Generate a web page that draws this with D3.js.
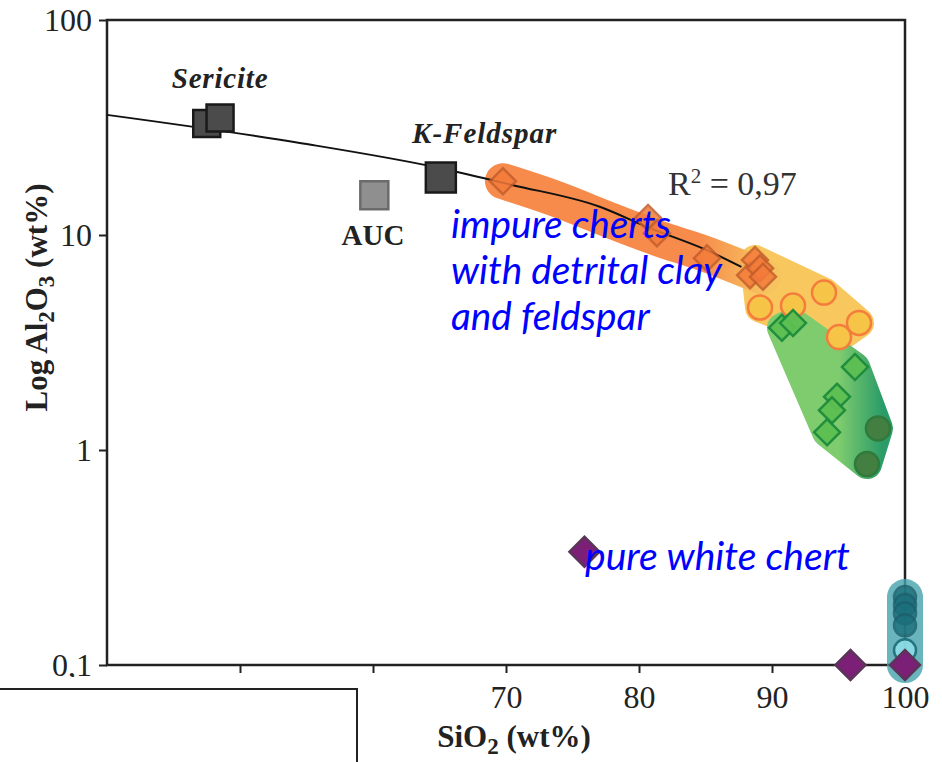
<!DOCTYPE html>
<html>
<head>
<meta charset="utf-8">
<script src="https://cdn.jsdelivr.net/npm/d3@7"></script>
<style>
  body { margin: 0; background: #fff; }
  svg { display: block; }
</style>
</head>
<body>
<svg id="chart" width="942" height="762"></svg>
<script>
// axis ticks
const xTicks = [50, 60, 70, 80, 90, 100]
const xTickLabels = ['', '', '70', '80', '90', '100']
const yTicks = [0.1, 1, 10, 100]
const yTickLabels = ['0,1', '1', '10', '100']

// [SiO2, Al2O3] in wt%
const fitLine = [[40, 36.2], [54.5, 26.8], [65, 20.5], [70.45, 17.1], [77.1, 13.5], [80.6, 10.9], [85.1, 8.5], [87.7, 7.1]]
const sericite = [[47.5, 33.0], [48.5, 35.0]]
const kFeldspar = [[65.1, 18.5]]
const auc = [[60.1, 15.3]]
const orangeDiamonds = [[69.77, 17.8], [80.68, 12.0], [81.35, 10.2], [85.11, 7.8], [88.35, 6.5], [88.72, 7.65], [89.1, 7.0], [89.32, 6.4]]
const yellowCircles = [[89.1, 4.6], [91.58, 4.7], [93.91, 5.4], [95.04, 3.35], [96.54, 3.9]]
const greenDiamonds = [[90.75, 3.7], [91.58, 3.9], [96.24, 2.43], [94.89, 1.77], [94.51, 1.53], [94.14, 1.21]]
const darkGreenCircles = [[97.97, 1.26], [97.14, 0.86]]
const purpleDiamonds = [[75.9, 0.336], [95.9, 0.1], [100, 0.1]]
const tealCircles = [[100, 0.207], [100, 0.19], [100, 0.174], [100, 0.153]]
const lightTealCircles = [[100, 0.117]]

const svg = d3.select('#chart')

const x = d3.scaleLinear().domain([40, 100]).range([107, 905])
const y = d3.scaleLog().domain([0.1, 100]).range([665, 20])

const serif = '"Liberation Serif", "DejaVu Serif", serif'
const line = d3.line().x(d => x(d[0])).y(d => y(d[1]))

// gradients
const defs = svg.append('defs')
const gOrange = defs.append('linearGradient').attr('id', 'gOrange')
  .attr('gradientUnits', 'userSpaceOnUse')
  .attr('x1', x(84.5)).attr('x2', x(89.5)).attr('y1', 0).attr('y2', 0)
gOrange.append('stop').attr('offset', 0).attr('stop-color', '#f68b4c')
gOrange.append('stop').attr('offset', 1).attr('stop-color', '#f7c35f')
const gGreen = defs.append('linearGradient').attr('id', 'gGreen')
  .attr('gradientUnits', 'userSpaceOnUse')
  .attr('x1', x(95)).attr('x2', x(98.3)).attr('y1', 0).attr('y2', 0)
gGreen.append('stop').attr('offset', 0).attr('stop-color', '#7fcc6e')
gGreen.append('stop').attr('offset', 1).attr('stop-color', '#2b9c68')

// axes
const xAxis = d3.axisBottom(x).tickValues(xTicks).tickSize(8).tickPadding(12)
  .tickFormat((d, i) => xTickLabels[i])
const yAxis = d3.axisLeft(y).tickValues(yTicks).tickSize(8).tickPadding(7)
  .tickFormat((d, i) => yTickLabels[i])

const gx = svg.append('g').attr('transform', `translate(0,${y(0.1)})`).call(xAxis)
const gy = svg.append('g').attr('transform', `translate(${x(40)},0)`).call(yAxis)
for (const g of [gx, gy]) {
  g.select('.domain').remove()
  g.selectAll('line').attr('stroke', '#222').attr('stroke-width', 2)
  g.selectAll('text').attr('font-family', serif).attr('font-size', 32).attr('fill', '#222')
}

svg.append('rect')
  .attr('x', x(40)).attr('y', y(100))
  .attr('width', x(100) - x(40)).attr('height', y(0.1) - y(100))
  .attr('fill', 'none').attr('stroke', '#222').attr('stroke-width', 2.5)

// axis titles
svg.append('text')
  .attr('x', (x(40) + x(100)) / 2 + 8).attr('y', 747)
  .attr('text-anchor', 'middle')
  .attr('font-family', serif).attr('font-weight', 'bold').attr('font-size', 31).attr('fill', '#222')
  .html('SiO<tspan font-size="23" dy="7">2</tspan><tspan dy="-7"> (wt%)</tspan>')

svg.append('text')
  .attr('transform', `translate(47,${(y(100) + y(0.1)) / 2 - 45}) rotate(-90)`)
  .attr('text-anchor', 'middle')
  .attr('font-family', serif).attr('font-weight', 'bold').attr('font-size', 31).attr('fill', '#222')
  .html('Log Al<tspan font-size="23" dy="7">2</tspan><tspan dy="-7">O</tspan><tspan font-size="23" dy="7">3</tspan><tspan dy="-7"> (wt%)</tspan>')

// envelopes
svg.append('path')
  .datum(yellowCircles.concat(orangeDiamonds.slice(5, 7)))
  .attr('d', d => 'M' + d3.polygonHull(d.map(p => [x(p[0]), y(p[1])])).join('L') + 'Z')
  .attr('fill', '#f8c75e').attr('stroke', '#f8c75e')
  .attr('stroke-width', 30).attr('stroke-linejoin', 'round')

svg.append('path')
  .datum(orangeDiamonds.slice().sort((a, b) => a[0] - b[0]))
  .attr('d', line.curve(d3.curveBundle.beta(0.15)))
  .attr('fill', 'none').attr('stroke', 'url(#gOrange)')
  .attr('stroke-width', 36).attr('stroke-linecap', 'round').attr('stroke-linejoin', 'round')

svg.append('path')
  .datum(greenDiamonds.concat(darkGreenCircles))
  .attr('d', d => 'M' + d3.polygonHull(d.map(p => [x(p[0]), y(p[1])])).join('L') + 'Z')
  .attr('fill', 'url(#gGreen)').attr('stroke', 'url(#gGreen)')
  .attr('stroke-width', 30).attr('stroke-linejoin', 'round')

svg.append('path')
  .datum(tealCircles.concat(lightTealCircles, [purpleDiamonds[2]]))
  .attr('d', line.curve(d3.curveLinear))
  .attr('fill', 'none').attr('stroke', '#45a3ac').attr('stroke-opacity', 0.8)
  .attr('stroke-width', 36).attr('stroke-linecap', 'round')

// fit curve
svg.append('path')
  .datum(fitLine)
  .attr('d', line.curve(d3.curveMonotoneX))
  .attr('fill', 'none').attr('stroke', '#111').attr('stroke-width', 2)

// markers
function squares(data, side, fill, stroke) {
  svg.append('g').selectAll('path').data(data).join('path')
    .attr('transform', d => `translate(${x(d[0])},${y(d[1])})`)
    .attr('d', d3.symbol(d3.symbolSquare, side * side))
    .attr('fill', fill).attr('stroke', stroke).attr('stroke-width', 2.5)
}
function diamonds(data, half, fill, stroke, opacity) {
  const side = half * Math.SQRT2
  svg.append('g').selectAll('path').data(data).join('path')
    .attr('transform', d => `translate(${x(d[0])},${y(d[1])}) rotate(45)`)
    .attr('d', d3.symbol(d3.symbolSquare, side * side))
    .attr('fill', fill).attr('stroke', stroke).attr('stroke-width', 2.5)
    .attr('opacity', opacity)
}
function circles(data, r, fill, stroke, opacity) {
  svg.append('g').selectAll('circle').data(data).join('circle')
    .attr('cx', d => x(d[0])).attr('cy', d => y(d[1])).attr('r', r)
    .attr('fill', fill).attr('stroke', stroke).attr('stroke-width', 2.5)
    .attr('opacity', opacity)
}

squares(sericite, 27, '#4b4b4b', '#1a1a1a')
squares(kFeldspar, 30, '#4b4b4b', '#1a1a1a')
squares(auc, 28, '#8f8f8f', '#6b6b6b')
diamonds(orangeDiamonds, 13, '#f47b3a', '#c45e2c', 0.85)
circles(yellowCircles, 12, '#f6c446', '#f47c3c', 1)
diamonds(greenDiamonds, 13, '#5dbf52', '#1d8c3c', 0.95)
circles(darkGreenCircles, 12, '#437f41', '#2f7a3c', 1)
circles(tealCircles, 11, '#1b6f7a', '#1d5f6c', 0.8)
circles(lightTealCircles, 11, '#8cdde6', '#1d6f7a', 0.9)
diamonds(purpleDiamonds, 15, '#7c1f77', '#5b3558', 1)

// labels
const label = (txt, px, py, opts) => svg.append('text')
  .attr('x', px).attr('y', py).attr('text-anchor', opts.anchor || 'middle')
  .attr('font-family', serif).attr('font-size', opts.size)
  .attr('font-weight', opts.weight || 'normal').attr('font-style', opts.style || 'normal')
  .attr('fill', '#222').attr('letter-spacing', opts.ls || 0)
  .text(txt)

label('Sericite', x(48.5), y(35) - 30, { size: 29, weight: 'bold', style: 'italic', ls: 0.8 })
label('K-Feldspar', x(68.4), y(18.5) - 35, { size: 29, weight: 'bold', style: 'italic', ls: 1 })
label('AUC', x(60), y(15.3) + 50, { size: 29, weight: 'bold' })
svg.append('text')
  .attr('x', 668).attr('y', y(10) - 40)
  .attr('font-family', serif).attr('font-size', 34).attr('fill', '#333')
  .html('R<tspan font-size="21" dy="-12">2</tspan><tspan dy="12"> = 0,97</tspan>')

// white box covering the lower left corner
svg.append('rect').attr('x', -5).attr('y', 677).attr('width', 363).attr('height', 100).attr('fill', '#fff')
svg.append('path').attr('d', 'M0,689H357V762').attr('fill', 'none').attr('stroke', '#222').attr('stroke-width', 2)

// annotations
const sans = 'Lato, "Open Sans", sans-serif'
const notes = svg.append('text')
  .attr('font-family', sans).attr('font-style', 'italic').attr('fill', '#0000ff').attr('font-size', 30)
const lines = ['impure cherts', 'with detrital clay', 'and feldspar']
lines.forEach((t, i) => notes.append('tspan').attr('x', 451).attr('y', 238 + i * 46).text(t))
const w0 = notes.select('tspan').node().getComputedTextLength()
notes.attr('font-size', 30 * 220 / w0)

const pure = svg.append('text')
  .attr('x', 585).attr('y', 570)
  .attr('font-family', sans).attr('font-style', 'italic').attr('fill', '#0000ff').attr('font-size', 30)
  .text('pure white chert')
const w1 = pure.node().getComputedTextLength()
pure.attr('font-size', 30 * 265 / w1)
</script>
</body>
</html>
